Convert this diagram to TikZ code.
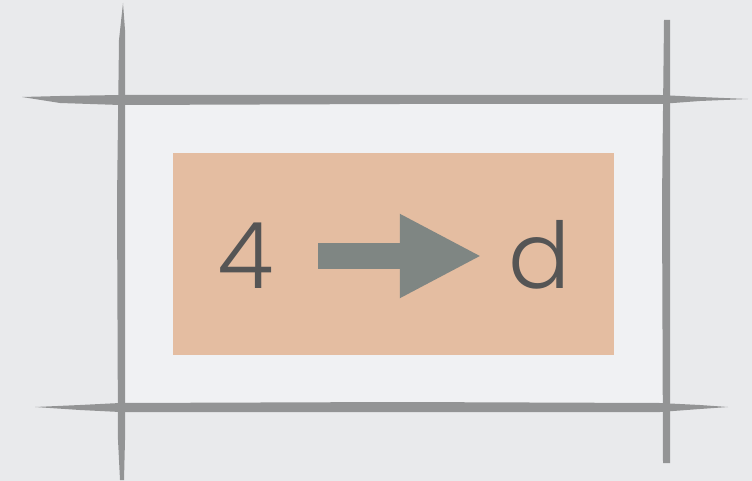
\documentclass[tikz,border=0pt]{standalone}
\usepackage{fontspec}
\newfontfamily\thinfont{Poppins}[UprightFont=* Light]
\usetikzlibrary{arrows.meta}
\definecolor{bgc}{HTML}{E9EAEC}
\definecolor{innerc}{HTML}{F0F1F3}
\definecolor{brush}{HTML}{939495}
\definecolor{peach}{HTML}{E4BDA1}
\definecolor{arrowc}{HTML}{7F8683}
\definecolor{txt}{HTML}{555555}
\tikzset{
  stroke/.style={fill=brush, draw=none},
  glyph/.style={font=\thinfont\fontsize{92}{92}\selectfont, text=txt, inner sep=0pt, anchor=base},
  bigarrow/.style={draw=arrowc, line width=26pt, -{Triangle[length=82pt,width=78pt]}},
}
\begin{document}
\begin{tikzpicture}[x=1pt,y=-1pt]
\useasboundingbox (0,0) rectangle (752,481);
\fill[bgc] (0,0) rectangle (752,481);
\fill[innerc] (122,100) rectangle (666,407);
% brush strokes
\fill[stroke] (22,97) -- (60,96) -- (120,95) -- (400,95) -- (660,95) -- (700,97) -- (748,99)
  -- (700,101) -- (660,104) -- (400,104) -- (120,105) -- (60,103) -- cycle;
\fill[stroke] (35,407) -- (80,405) -- (120,403) -- (400,402) -- (660,403) -- (700,405) -- (728,407)
  -- (700,409) -- (660,412) -- (400,412) -- (120,412) -- (80,410) -- cycle;
\fill[stroke] (123,3) -- (125,30) -- (125,200) -- (125,440) -- (124,480) -- (120,480) -- (118,440) -- (117,200) -- (119,40) -- cycle;
\fill[stroke] (664,20) -- (670,20) -- (670,200) -- (670,463) -- (663,463) -- (662,200) -- cycle;
% panel
\node[fill=peach, minimum width=441pt, minimum height=202pt, inner sep=0pt] (panel) at (393,254) {};
\node[glyph] (four) at (246,288) {4};
\node[glyph] (dee) at (540,288) {d};
\draw[bigarrow, shorten <=44pt, shorten >=27pt] ([yshift=32pt]four.base east) -- ([yshift=32pt]dee.base west);
\end{tikzpicture}
\end{document}
